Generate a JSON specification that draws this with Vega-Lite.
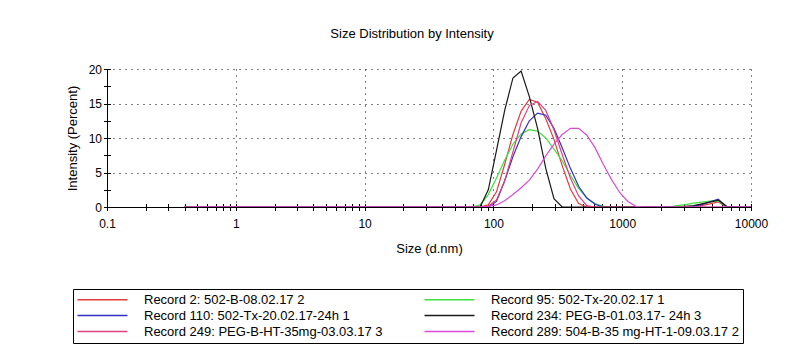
{
  "$schema": "https://vega.github.io/schema/vega-lite/v6.json",
  "width": 644,
  "height": 138,
  "autosize": {"type": "none"},
  "padding": {"left": 107, "top": 69, "right": 52, "bottom": 149},
  "background": "#ffffff",
  "config": {
    "font": "Liberation Sans",
    "view": {"stroke": null}
  },
  "title": {
    "text": "Size Distribution by Intensity",
    "fontSize": 13,
    "fontWeight": "normal",
    "color": "#000000",
    "anchor": "middle",
    "offset": 22,
    "dx": -17
  },
  "data": {
    "values": [
      {"record": "Record 2: 502-B-08.02.17 2", "size": 0.4, "intensity": 0},
      {"record": "Record 2: 502-B-08.02.17 2", "size": 78.82, "intensity": 0},
      {"record": "Record 2: 502-B-08.02.17 2", "size": 91.28, "intensity": 0.3},
      {"record": "Record 2: 502-B-08.02.17 2", "size": 105.7, "intensity": 2.2},
      {"record": "Record 2: 502-B-08.02.17 2", "size": 122.4, "intensity": 6.2},
      {"record": "Record 2: 502-B-08.02.17 2", "size": 141.8, "intensity": 10.5},
      {"record": "Record 2: 502-B-08.02.17 2", "size": 164.2, "intensity": 13.9},
      {"record": "Record 2: 502-B-08.02.17 2", "size": 190.1, "intensity": 15.6},
      {"record": "Record 2: 502-B-08.02.17 2", "size": 220.2, "intensity": 15.2},
      {"record": "Record 2: 502-B-08.02.17 2", "size": 255.0, "intensity": 12.8},
      {"record": "Record 2: 502-B-08.02.17 2", "size": 295.3, "intensity": 9.8},
      {"record": "Record 2: 502-B-08.02.17 2", "size": 342.0, "intensity": 6.0},
      {"record": "Record 2: 502-B-08.02.17 2", "size": 396.1, "intensity": 2.6},
      {"record": "Record 2: 502-B-08.02.17 2", "size": 458.7, "intensity": 0.5},
      {"record": "Record 2: 502-B-08.02.17 2", "size": 531.2, "intensity": 0},
      {"record": "Record 2: 502-B-08.02.17 2", "size": 3580, "intensity": 0},
      {"record": "Record 2: 502-B-08.02.17 2", "size": 4145, "intensity": 0.2},
      {"record": "Record 2: 502-B-08.02.17 2", "size": 4801, "intensity": 0.45},
      {"record": "Record 2: 502-B-08.02.17 2", "size": 5560, "intensity": 0.75},
      {"record": "Record 2: 502-B-08.02.17 2", "size": 6439, "intensity": 0},
      {"record": "Record 2: 502-B-08.02.17 2", "size": 10000, "intensity": 0},

      {"record": "Record 95: 502-Tx-20.02.17 1", "size": 0.4, "intensity": 0},
      {"record": "Record 95: 502-Tx-20.02.17 1", "size": 68.06, "intensity": 0},
      {"record": "Record 95: 502-Tx-20.02.17 1", "size": 78.82, "intensity": 0.3},
      {"record": "Record 95: 502-Tx-20.02.17 1", "size": 91.28, "intensity": 1.8},
      {"record": "Record 95: 502-Tx-20.02.17 1", "size": 105.7, "intensity": 4.2},
      {"record": "Record 95: 502-Tx-20.02.17 1", "size": 122.4, "intensity": 6.8},
      {"record": "Record 95: 502-Tx-20.02.17 1", "size": 141.8, "intensity": 9.1},
      {"record": "Record 95: 502-Tx-20.02.17 1", "size": 164.2, "intensity": 10.6},
      {"record": "Record 95: 502-Tx-20.02.17 1", "size": 190.1, "intensity": 11.2},
      {"record": "Record 95: 502-Tx-20.02.17 1", "size": 220.2, "intensity": 11.0},
      {"record": "Record 95: 502-Tx-20.02.17 1", "size": 255.0, "intensity": 10.0},
      {"record": "Record 95: 502-Tx-20.02.17 1", "size": 295.3, "intensity": 8.4},
      {"record": "Record 95: 502-Tx-20.02.17 1", "size": 342.0, "intensity": 6.7},
      {"record": "Record 95: 502-Tx-20.02.17 1", "size": 396.1, "intensity": 4.6},
      {"record": "Record 95: 502-Tx-20.02.17 1", "size": 458.7, "intensity": 2.7},
      {"record": "Record 95: 502-Tx-20.02.17 1", "size": 531.2, "intensity": 1.3},
      {"record": "Record 95: 502-Tx-20.02.17 1", "size": 615.1, "intensity": 0.5},
      {"record": "Record 95: 502-Tx-20.02.17 1", "size": 712.4, "intensity": 0.1},
      {"record": "Record 95: 502-Tx-20.02.17 1", "size": 825.0, "intensity": 0},
      {"record": "Record 95: 502-Tx-20.02.17 1", "size": 2305, "intensity": 0},
      {"record": "Record 95: 502-Tx-20.02.17 1", "size": 2669, "intensity": 0.2},
      {"record": "Record 95: 502-Tx-20.02.17 1", "size": 3091, "intensity": 0.35},
      {"record": "Record 95: 502-Tx-20.02.17 1", "size": 3580, "intensity": 0.55},
      {"record": "Record 95: 502-Tx-20.02.17 1", "size": 4145, "intensity": 0.7},
      {"record": "Record 95: 502-Tx-20.02.17 1", "size": 4801, "intensity": 0.85},
      {"record": "Record 95: 502-Tx-20.02.17 1", "size": 5560, "intensity": 0.9},
      {"record": "Record 95: 502-Tx-20.02.17 1", "size": 6439, "intensity": 0.05},
      {"record": "Record 95: 502-Tx-20.02.17 1", "size": 7456, "intensity": 0},
      {"record": "Record 95: 502-Tx-20.02.17 1", "size": 10000, "intensity": 0},

      {"record": "Record 110: 502-Tx-20.02.17-24h 1", "size": 0.4, "intensity": 0},
      {"record": "Record 110: 502-Tx-20.02.17-24h 1", "size": 91.28, "intensity": 0},
      {"record": "Record 110: 502-Tx-20.02.17-24h 1", "size": 105.7, "intensity": 0.8},
      {"record": "Record 110: 502-Tx-20.02.17-24h 1", "size": 122.4, "intensity": 3.8},
      {"record": "Record 110: 502-Tx-20.02.17-24h 1", "size": 141.8, "intensity": 7.3},
      {"record": "Record 110: 502-Tx-20.02.17-24h 1", "size": 164.2, "intensity": 10.2},
      {"record": "Record 110: 502-Tx-20.02.17-24h 1", "size": 190.1, "intensity": 12.5},
      {"record": "Record 110: 502-Tx-20.02.17-24h 1", "size": 220.2, "intensity": 13.6},
      {"record": "Record 110: 502-Tx-20.02.17-24h 1", "size": 255.0, "intensity": 13.3},
      {"record": "Record 110: 502-Tx-20.02.17-24h 1", "size": 295.3, "intensity": 11.4},
      {"record": "Record 110: 502-Tx-20.02.17-24h 1", "size": 342.0, "intensity": 8.6},
      {"record": "Record 110: 502-Tx-20.02.17-24h 1", "size": 396.1, "intensity": 5.6},
      {"record": "Record 110: 502-Tx-20.02.17-24h 1", "size": 458.7, "intensity": 3.0},
      {"record": "Record 110: 502-Tx-20.02.17-24h 1", "size": 531.2, "intensity": 1.3},
      {"record": "Record 110: 502-Tx-20.02.17-24h 1", "size": 615.1, "intensity": 0.4},
      {"record": "Record 110: 502-Tx-20.02.17-24h 1", "size": 712.4, "intensity": 0},
      {"record": "Record 110: 502-Tx-20.02.17-24h 1", "size": 3091, "intensity": 0},
      {"record": "Record 110: 502-Tx-20.02.17-24h 1", "size": 3580, "intensity": 0.1},
      {"record": "Record 110: 502-Tx-20.02.17-24h 1", "size": 4145, "intensity": 0.35},
      {"record": "Record 110: 502-Tx-20.02.17-24h 1", "size": 4801, "intensity": 0.75},
      {"record": "Record 110: 502-Tx-20.02.17-24h 1", "size": 5560, "intensity": 1.15},
      {"record": "Record 110: 502-Tx-20.02.17-24h 1", "size": 6439, "intensity": 0.1},
      {"record": "Record 110: 502-Tx-20.02.17-24h 1", "size": 7456, "intensity": 0},
      {"record": "Record 110: 502-Tx-20.02.17-24h 1", "size": 10000, "intensity": 0},

      {"record": "Record 234: PEG-B-01.03.17- 24h 3", "size": 0.4, "intensity": 0},
      {"record": "Record 234: PEG-B-01.03.17- 24h 3", "size": 78.82, "intensity": 0},
      {"record": "Record 234: PEG-B-01.03.17- 24h 3", "size": 91.28, "intensity": 2.5},
      {"record": "Record 234: PEG-B-01.03.17- 24h 3", "size": 105.7, "intensity": 8.2},
      {"record": "Record 234: PEG-B-01.03.17- 24h 3", "size": 122.4, "intensity": 14.0},
      {"record": "Record 234: PEG-B-01.03.17- 24h 3", "size": 141.8, "intensity": 18.7},
      {"record": "Record 234: PEG-B-01.03.17- 24h 3", "size": 164.2, "intensity": 19.7},
      {"record": "Record 234: PEG-B-01.03.17- 24h 3", "size": 190.1, "intensity": 16.0},
      {"record": "Record 234: PEG-B-01.03.17- 24h 3", "size": 220.2, "intensity": 11.4},
      {"record": "Record 234: PEG-B-01.03.17- 24h 3", "size": 255.0, "intensity": 5.6},
      {"record": "Record 234: PEG-B-01.03.17- 24h 3", "size": 295.3, "intensity": 1.2},
      {"record": "Record 234: PEG-B-01.03.17- 24h 3", "size": 342.0, "intensity": 0},
      {"record": "Record 234: PEG-B-01.03.17- 24h 3", "size": 2669, "intensity": 0},
      {"record": "Record 234: PEG-B-01.03.17- 24h 3", "size": 3091, "intensity": 0.1},
      {"record": "Record 234: PEG-B-01.03.17- 24h 3", "size": 3580, "intensity": 0.2},
      {"record": "Record 234: PEG-B-01.03.17- 24h 3", "size": 4145, "intensity": 0.45},
      {"record": "Record 234: PEG-B-01.03.17- 24h 3", "size": 4801, "intensity": 0.7},
      {"record": "Record 234: PEG-B-01.03.17- 24h 3", "size": 5560, "intensity": 1.0},
      {"record": "Record 234: PEG-B-01.03.17- 24h 3", "size": 6439, "intensity": 0.1},
      {"record": "Record 234: PEG-B-01.03.17- 24h 3", "size": 7456, "intensity": 0},
      {"record": "Record 234: PEG-B-01.03.17- 24h 3", "size": 10000, "intensity": 0},

      {"record": "Record 249: PEG-B-HT-35mg-03.03.17 3", "size": 0.4, "intensity": 0},
      {"record": "Record 249: PEG-B-HT-35mg-03.03.17 3", "size": 78.82, "intensity": 0},
      {"record": "Record 249: PEG-B-HT-35mg-03.03.17 3", "size": 91.28, "intensity": 0.1},
      {"record": "Record 249: PEG-B-HT-35mg-03.03.17 3", "size": 105.7, "intensity": 1.0},
      {"record": "Record 249: PEG-B-HT-35mg-03.03.17 3", "size": 122.4, "intensity": 3.8},
      {"record": "Record 249: PEG-B-HT-35mg-03.03.17 3", "size": 141.8, "intensity": 8.0},
      {"record": "Record 249: PEG-B-HT-35mg-03.03.17 3", "size": 164.2, "intensity": 12.2},
      {"record": "Record 249: PEG-B-HT-35mg-03.03.17 3", "size": 190.1, "intensity": 14.7},
      {"record": "Record 249: PEG-B-HT-35mg-03.03.17 3", "size": 220.2, "intensity": 15.3},
      {"record": "Record 249: PEG-B-HT-35mg-03.03.17 3", "size": 255.0, "intensity": 14.0},
      {"record": "Record 249: PEG-B-HT-35mg-03.03.17 3", "size": 295.3, "intensity": 11.2},
      {"record": "Record 249: PEG-B-HT-35mg-03.03.17 3", "size": 342.0, "intensity": 7.6},
      {"record": "Record 249: PEG-B-HT-35mg-03.03.17 3", "size": 396.1, "intensity": 4.2},
      {"record": "Record 249: PEG-B-HT-35mg-03.03.17 3", "size": 458.7, "intensity": 1.6},
      {"record": "Record 249: PEG-B-HT-35mg-03.03.17 3", "size": 531.2, "intensity": 0.2},
      {"record": "Record 249: PEG-B-HT-35mg-03.03.17 3", "size": 615.1, "intensity": 0},
      {"record": "Record 249: PEG-B-HT-35mg-03.03.17 3", "size": 10000, "intensity": 0},

      {"record": "Record 289: 504-B-35 mg-HT-1-09.03.17 2", "size": 0.4, "intensity": 0},
      {"record": "Record 289: 504-B-35 mg-HT-1-09.03.17 2", "size": 78.82, "intensity": 0},
      {"record": "Record 289: 504-B-35 mg-HT-1-09.03.17 2", "size": 91.28, "intensity": 0.05},
      {"record": "Record 289: 504-B-35 mg-HT-1-09.03.17 2", "size": 105.7, "intensity": 0.3},
      {"record": "Record 289: 504-B-35 mg-HT-1-09.03.17 2", "size": 122.4, "intensity": 0.9},
      {"record": "Record 289: 504-B-35 mg-HT-1-09.03.17 2", "size": 141.8, "intensity": 1.8},
      {"record": "Record 289: 504-B-35 mg-HT-1-09.03.17 2", "size": 164.2, "intensity": 2.8},
      {"record": "Record 289: 504-B-35 mg-HT-1-09.03.17 2", "size": 190.1, "intensity": 3.9},
      {"record": "Record 289: 504-B-35 mg-HT-1-09.03.17 2", "size": 220.2, "intensity": 5.5},
      {"record": "Record 289: 504-B-35 mg-HT-1-09.03.17 2", "size": 255.0, "intensity": 7.4},
      {"record": "Record 289: 504-B-35 mg-HT-1-09.03.17 2", "size": 295.3, "intensity": 9.1},
      {"record": "Record 289: 504-B-35 mg-HT-1-09.03.17 2", "size": 342.0, "intensity": 10.5},
      {"record": "Record 289: 504-B-35 mg-HT-1-09.03.17 2", "size": 396.1, "intensity": 11.4},
      {"record": "Record 289: 504-B-35 mg-HT-1-09.03.17 2", "size": 458.7, "intensity": 11.4},
      {"record": "Record 289: 504-B-35 mg-HT-1-09.03.17 2", "size": 531.2, "intensity": 10.4},
      {"record": "Record 289: 504-B-35 mg-HT-1-09.03.17 2", "size": 615.1, "intensity": 8.6},
      {"record": "Record 289: 504-B-35 mg-HT-1-09.03.17 2", "size": 712.4, "intensity": 6.2},
      {"record": "Record 289: 504-B-35 mg-HT-1-09.03.17 2", "size": 825.0, "intensity": 4.0},
      {"record": "Record 289: 504-B-35 mg-HT-1-09.03.17 2", "size": 955.4, "intensity": 2.1},
      {"record": "Record 289: 504-B-35 mg-HT-1-09.03.17 2", "size": 1106, "intensity": 0.8},
      {"record": "Record 289: 504-B-35 mg-HT-1-09.03.17 2", "size": 1281, "intensity": 0.1},
      {"record": "Record 289: 504-B-35 mg-HT-1-09.03.17 2", "size": 1484, "intensity": 0},
      {"record": "Record 289: 504-B-35 mg-HT-1-09.03.17 2", "size": 10000, "intensity": 0}
    ]
  },
  "mark": {"type": "line", "strokeWidth": 1.2, "clip": true},
  "encoding": {
    "x": {
      "field": "size",
      "type": "quantitative",
      "scale": {"type": "log", "domain": [0.1, 10000], "nice": false},
      "axis": {
        "title": "Size (d.nm)",
        "titleFontSize": 13,
        "titleFontWeight": "normal",
        "titleColor": "#000000",
        "titlePadding": 13,
        "values": [0.1, 0.2, 0.3, 0.4, 0.5, 0.6, 0.7, 0.8, 0.9, 1, 2, 3, 4, 5, 6, 7, 8, 9, 10, 20, 30, 40, 50, 60, 70, 80, 90, 100, 200, 300, 400, 500, 600, 700, 800, 900, 1000, 2000, 3000, 4000, 5000, 6000, 7000, 8000, 9000, 10000],
        "labelExpr": "indexof([0.1,1,10,100,1000,10000], datum.value) >= 0 ? format(datum.value, '~g') : ''",
        "labelFontSize": 12,
        "labelColor": "#000000",
        "labelPadding": 8,
        "labelFlush": false,
        "labelOverlap": false,
        "domain": false,
        "ticks": true,
        "tickSize": 7,
        "tickColor": "#000000",
        "offset": -3.5,
        "grid": true,
        "gridColor": "#000000",
        "gridWidth": 1,
        "gridOpacity": {"condition": {"test": "indexof([0.1,1,10,100,1000,10000], datum.value) >= 0", "value": 1}, "value": 0},
        "gridDash": {"condition": {"test": "datum.value == 0.1", "value": []}, "value": [1, 5]}
      }
    },
    "y": {
      "field": "intensity",
      "type": "quantitative",
      "scale": {"domain": [0, 20], "nice": false},
      "axis": {
        "title": "Intensity (Percent)",
        "titleFontSize": 13,
        "titleFontWeight": "normal",
        "titleColor": "#000000",
        "titlePadding": 9,
        "values": [0, 2.5, 5, 7.5, 10, 12.5, 15, 17.5, 20],
        "labelExpr": "datum.value % 5 == 0 ? format(datum.value, '~g') : ''",
        "labelFontSize": 12,
        "labelColor": "#000000",
        "labelPadding": 2,
        "labelFlush": false,
        "labelOverlap": false,
        "domain": false,
        "ticks": true,
        "tickSize": 7,
        "tickColor": "#000000",
        "offset": -3.5,
        "grid": true,
        "gridColor": "#000000",
        "gridWidth": 1,
        "gridOpacity": {"condition": {"test": "datum.value % 5 == 0", "value": 1}, "value": 0},
        "gridDash": {"condition": {"test": "datum.value == 0", "value": []}, "value": [1, 5]}
      }
    },
    "color": {
      "field": "record",
      "type": "nominal",
      "scale": {
        "domain": [
          "Record 2: 502-B-08.02.17 2",
          "Record 95: 502-Tx-20.02.17 1",
          "Record 110: 502-Tx-20.02.17-24h 1",
          "Record 234: PEG-B-01.03.17- 24h 3",
          "Record 249: PEG-B-HT-35mg-03.03.17 3",
          "Record 289: 504-B-35 mg-HT-1-09.03.17 2"
        ],
        "range": ["#e03c3c", "#3ee03e", "#3030c8", "#1a1a1a", "#e0407f", "#d94ad9"]
      },
      "legend": {
        "title": null,
        "orient": "none",
        "direction": "horizontal",
        "legendX": -34,
        "legendY": 220,
        "columns": 2,
        "columnPadding": 38,
        "rowPadding": 2,
        "padding": 4,
        "strokeColor": "#000000",
        "fillColor": "#ffffff",
        "symbolType": "M-5,0H5",
        "symbolSize": 100,
        "symbolStrokeWidth": 1.5,
        "symbolOffset": 19,
        "labelOffset": 35,
        "labelFontSize": 13,
        "labelLimit": 0,
        "labelColor": "#000000"
      }
    }
  }
}
